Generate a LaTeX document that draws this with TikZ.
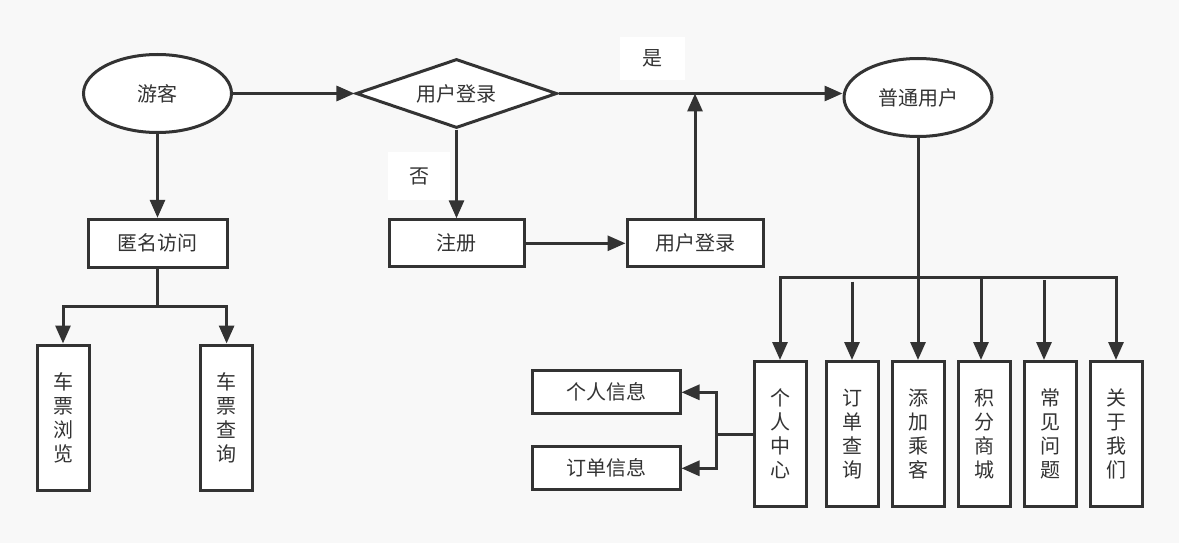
\documentclass[tikz,border=0pt]{standalone}
\usepackage{fontspec}
\setmainfont{Noto Sans CJK SC}
\usetikzlibrary{shapes.geometric,arrows.meta}
\definecolor{ln}{HTML}{333333}
\definecolor{bg}{HTML}{F8F8F8}
\begin{document}
\begin{tikzpicture}[x=1pt,y=-1pt,
  base/.style={draw=ln,line width=3pt,fill=white,text=ln,inner sep=0pt,font=\fontsize{20}{24}\selectfont},
  ell/.style={base,ellipse,minimum width=148pt,minimum height=78pt},
  dia/.style={base,diamond,shape aspect=2.9,minimum width=201pt,minimum height=69pt},
  box/.style={base,rectangle},
  vbox/.style={base,rectangle,minimum width=52pt,minimum height=145pt,align=center},
  lbl/.style={fill=white,text=ln,inner sep=0pt,font=\fontsize{20}{24}\selectfont},
  conn/.style={draw=ln,line width=3pt},
  arr/.style={conn,-{Triangle[length=18pt,width=15pt]}}]
\fill[bg] (0,0) rectangle (1179,543);
% labels
\node[lbl,minimum width=62pt,minimum height=48pt] (fou) at (419,176) {否};
\node[lbl,minimum width=65pt,minimum height=43pt] (shi) at (652.5,58.3) {是};
% nodes
\node[ell] (youke) at (157.5,93.5) {游客};
\node[dia] (login) at (456.5,93.5) {用户登录};
\node[ell] (putong) at (918,97.5) {普通用户};
\node[box,minimum width=139pt,minimum height=48pt] (niming) at (157.5,243.3) {匿名访问};
\node[box,minimum width=135pt,minimum height=47pt] (zhuce) at (456.5,243.3) {注册};
\node[box,minimum width=136pt,minimum height=47pt] (login2) at (695,243.3) {用户登录};
\node[vbox] (cpll) at (63,417.5) {车\\票\\浏\\览};
\node[vbox] (cpcx) at (226.6,417.5) {车\\票\\查\\询};
\node[vbox] (grzx) at (780,434) {个\\人\\中\\心};
\node[vbox] (ddcx) at (852,434) {订\\单\\查\\询};
\node[vbox] (tjck) at (918,434) {添\\加\\乘\\客};
\node[vbox] (jfsc) at (984,434) {积\\分\\商\\城};
\node[vbox] (cjwt) at (1050,434) {常\\见\\问\\题};
\node[vbox] (gywm) at (1116,434) {关\\于\\我\\们};
\node[box,minimum width=148pt,minimum height=43pt] (grxx) at (606,392.3) {个人信息};
\node[box,minimum width=148pt,minimum height=43pt] (ddxx) at (606,468.3) {订单信息};
% coordinates
\coordinate (nj) at (157.5,306);
\coordinate (bus) at (918,277);
\coordinate (d1) at (852,281.5);
\coordinate (d2) at (981,277);
\coordinate (d3) at (1044,280);
\coordinate (gj) at (716.7,434);
% connectors
\draw[arr] (youke) -- (login);
\draw[arr] (login.east) -- (login.east -| putong.west);
\draw[arr] (youke) -- (niming);
\draw[arr] (login) -- (zhuce);
\draw[arr] (zhuce) -- (login2);
\draw[arr] (login2) -- (login2.north |- login.east);
\draw[conn] (niming) -- (nj);
\draw[arr] (nj) -| (cpll);
\draw[arr] (nj) -| (cpcx);
\draw[conn] (putong) -- (bus);
\draw[arr] (bus) -| (grzx);
\draw[arr] (bus) -| (gywm);
\draw[arr] (bus) -- (tjck);
\draw[arr] (d1) -- (ddcx);
\draw[arr] (d2) -- (d2 |- jfsc.north);
\draw[arr] (d3) -- (d3 |- cjwt.north);
\draw[conn] (grzx) -- (gj);
\draw[arr] (gj) |- (grxx);
\draw[arr] (gj) |- (ddxx);
\end{tikzpicture}
\end{document}
